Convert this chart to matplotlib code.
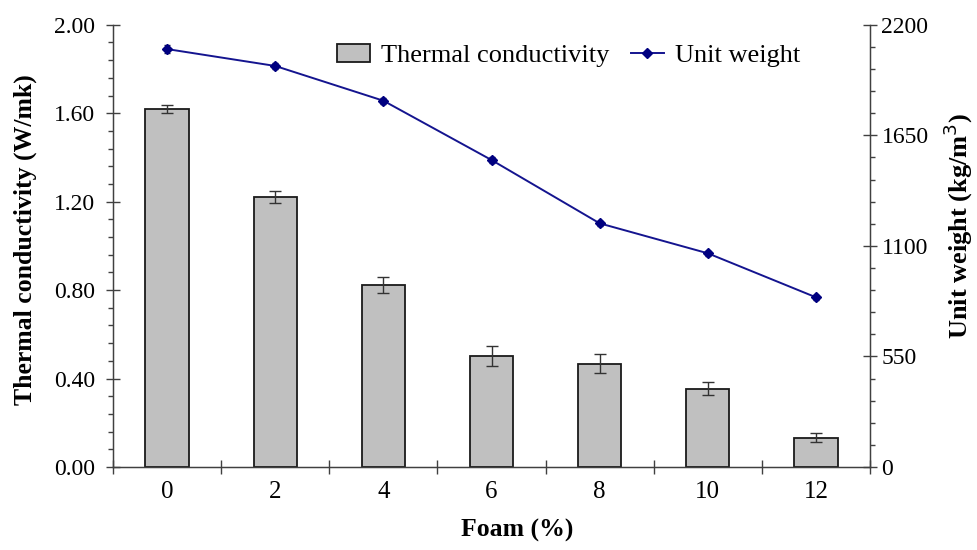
import numpy as np
import matplotlib.pyplot as plt
from matplotlib.lines import Line2D
from matplotlib.ticker import MultipleLocator, FixedLocator, FuncFormatter

plt.rcParams['font.family'] = ['Liberation Serif', 'DejaVu Serif']
plt.rcParams['axes.unicode_minus'] = False

# 폼 함량별 열전도율 / 단위중량
foam = ['0', '2', '4', '6', '8', '10', '12']
conductivity = [1.62, 1.222, 0.823, 0.503, 0.466, 0.354, 0.133]
conductivity_err = [0.017, 0.027, 0.038, 0.046, 0.043, 0.029, 0.02]
unit_weight = [2079, 1995, 1822, 1527, 1212, 1063, 844]
unit_weight_err = [18, 16, 14, 14, 12, 12, 12]

axis_color = '#404040'
line_color = '#14148f'
x = np.arange(len(foam))

fig = plt.figure(figsize=(9.77, 5.5), dpi=100)
ax = fig.add_axes([0.1157, 0.151, 0.7748, 0.804])

ax.bar(x, conductivity, width=0.4, color='#c0c0c0', edgecolor='#1a1a1a',
       linewidth=1.3, zorder=2)
ax.errorbar(x, conductivity, yerr=conductivity_err, fmt='none',
            ecolor='#333333', elinewidth=1.0, capsize=4, capthick=1.0, zorder=3)

ax.set_xlim(-0.5, len(foam) - 0.5)
ax.set_ylim(0, 2.0)
ax.yaxis.set_major_locator(MultipleLocator(0.4))
ax.yaxis.set_minor_locator(MultipleLocator(0.08))
ax.yaxis.set_major_formatter(FuncFormatter(lambda v, p: f'{v:.2f}'))
ax.set_xticks(x)
ax.set_xticklabels(foam)
ax.xaxis.set_minor_locator(FixedLocator(np.arange(-0.5, len(foam), 1.0)))

ax.tick_params(axis='x', which='major', length=0, pad=10, labelsize=18)
ax.tick_params(axis='x', which='minor', direction='inout', length=10,
               width=1.0, color=axis_color)
ax.tick_params(axis='y', which='major', direction='inout', length=9.5,
               width=1.0, color=axis_color, labelsize=17, pad=8)
ax.tick_params(axis='y', which='minor', direction='out', length=3.6,
               width=1.0, color=axis_color)

for s in ['left', 'right', 'bottom']:
    ax.spines[s].set_color(axis_color)
    ax.spines[s].set_linewidth(1.0)
ax.spines['top'].set_visible(False)

ax.set_xlabel('Foam (%)', fontsize=18.5, fontweight='bold')
ax.xaxis.set_label_coords(0.534, -0.118)
ax.set_ylabel('Thermal conductivity (W/mk)', fontsize=18.5, fontweight='bold')
ax.yaxis.set_label_coords(-0.100, 0.513)

# 단위중량 (오른쪽 축)
ax2 = ax.twinx()
ax2.errorbar(x, unit_weight, yerr=unit_weight_err, color=line_color,
             marker='D', markersize=5, markerfacecolor='#000080',
             markeredgecolor='#000080', linewidth=1.4, ecolor='#202050',
             elinewidth=0.9, capsize=2.5, zorder=4)
ax2.set_ylim(0, 2200)
ax2.yaxis.set_major_locator(MultipleLocator(550))
ax2.yaxis.set_minor_locator(MultipleLocator(110))
ax2.tick_params(axis='y', which='major', direction='inout', length=9.5,
                width=1.0, color=axis_color, labelsize=17, pad=3.5)
ax2.tick_params(axis='y', which='minor', direction='out', length=3.6,
                width=1.0, color=axis_color)
ax2.spines['top'].set_visible(False)
for s in ['left', 'right', 'bottom']:
    ax2.spines[s].set_color(axis_color)
ax2.set_ylabel('Unit weight (kg/m$^3$)', fontsize=19, fontweight='bold')
ax2.yaxis.set_label_coords(1.095, 0.545)

# 범례
handles = [
    plt.Rectangle((0, 0), 1, 1, facecolor='#c0c0c0', edgecolor='#1a1a1a',
                  linewidth=1.3),
    Line2D([], [], color=line_color, linewidth=1.4, marker='D', markersize=5,
           markerfacecolor='#000080', markeredgecolor='#000080'),
]
ax.legend(handles, ['Thermal conductivity', 'Unit weight'], loc='center',
          bbox_to_anchor=(0.602, 0.93), ncol=2, frameon=False, fontsize=19,
          handlelength=1.25, columnspacing=0.8, handletextpad=0.42,
          borderpad=0)

fig.savefig('out.png', dpi=100)
